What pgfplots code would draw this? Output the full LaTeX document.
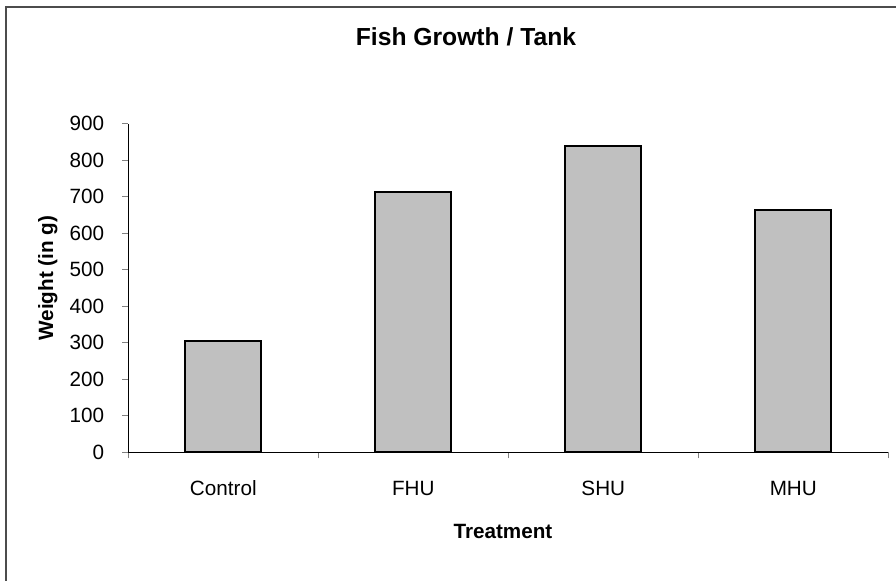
\documentclass[border=0pt]{standalone}
\usepackage{fontspec}
\setmainfont{Liberation Sans}
\usepackage{pgfplots}
\pgfplotsset{compat=1.18}
\definecolor{barfill}{HTML}{C0C0C0}
\begin{document}
\begin{tikzpicture}
\begin{scope}[x=0.75pt,y=-0.75pt]
\path[use as bounding box] (0,0) rectangle (896,581);
\draw[black!70, line width=1pt] (6,581) -- (6,7) -- (896,7);
\end{scope}
\begin{axis}[
  at={(96.225pt,-339.225pt)}, anchor=south west,
  width=570pt, height=246.45pt, scale only axis,
  xmin=-0.5, xmax=3.5, ymin=0, ymax=900,
  ybar, bar width=0.4,
  axis x line*=bottom, axis y line*=left,
  axis line style={-, line width=0.75pt, black},
  tick align=outside,
  xtick={0,1,2,3}, xticklabels={Control,FHU,SHU,MHU},
  every major x tick/.append style={draw=none},
  minor xtick={-0.5,0.5,1.5,2.5,3.5},
  minor tick length=4.5pt, major tick length=4.5pt,
  ytick={0,100,...,900},
  tick style={black!50, line width=0.75pt},
  /pgf/number format/assume math mode=true,
  yticklabel style={font=\fontsize{15.5}{18}\selectfont, inner sep=0pt, anchor=east, xshift=-13.5pt},
  xticklabel style={font=\fontsize{15.5}{18}\selectfont, inner sep=0pt, anchor=north, text height=11.1pt, text depth=3pt, yshift=-16.3pt},
  title={Fish Growth / Tank},
  title style={at={(axis description cs:0.4443,1.2122)}, anchor=base, font=\bfseries\fontsize{18.5}{22}\selectfont},
  xlabel={Treatment},
  xlabel style={at={(axis description cs:0.493,-0.2608)}, anchor=base, font=\bfseries\fontsize{15.5}{18}\selectfont},
  ylabel={Weight (in g)},
  ylabel style={at={(axis description cs:-0.099,0.5304)}, rotate=0, anchor=base, font=\bfseries\fontsize{15.5}{18}\selectfont},
  clip=false,
]
\addplot[fill=barfill, draw=black, line width=1.4pt] coordinates {(0,304) (1,712) (2,839) (3,664)};
\end{axis}
\end{tikzpicture}
\end{document}
